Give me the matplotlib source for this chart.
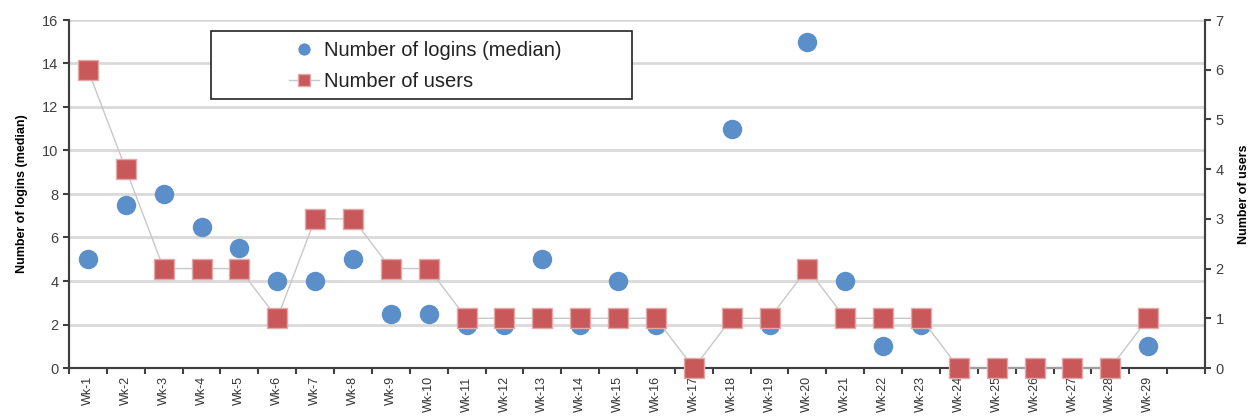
import matplotlib
matplotlib.use("Agg")
import matplotlib.pyplot as plt
from matplotlib.patches import Rectangle
import numpy as np

weeks = ["Wk-%d" % i for i in range(1, 30)]
logins = [5, 7.5, 8, 6.5, 5.5, 4, 4, 5, 2.5, 2.5, 2, 2, 5, 2, 4, 2, 0, 11, 2, 15,
          4, 1, 2, 0, 0, 0, 0, 0, 1]
users = [6, 4, 2, 2, 2, 1, 3, 3, 2, 2, 1, 1, 1, 1, 1, 1, 0, 1, 1, 2,
         1, 1, 1, 0, 0, 0, 0, 0, 1]

plt.rcParams['font.family'] = ['Liberation Sans', 'DejaVu Sans']

W, H = 1250, 419
fig = plt.figure(figsize=(12.5, 4.19), dpi=100)
ax = fig.add_axes([69 / W, 1 - 368 / H, (1205 - 69) / W, (368 - 20) / H])
ax2 = ax.twinx()

x = np.arange(len(weeks))
blue = '#5B8FCA'
red = '#C9585A'

h1, = ax.plot(x, logins, 'o', color=blue, markersize=14, markeredgewidth=0,
              label='Number of logins (median)', zorder=3)
h2, = ax2.plot(x, users, '-s', color='#C8C8C8', lw=1, markerfacecolor=red,
               markeredgecolor='#E2A9A9', markeredgewidth=1, markersize=14,
               label='Number of users', zorder=3, clip_on=False)

ax.set_xlim(-0.5, len(weeks) + 0.5)
ax.set_ylim(0, 16)
ax.set_yticks(range(0, 17, 2))
ax2.set_ylim(0, 7)
ax2.set_yticks(range(0, 8))

ax.yaxis.grid(True, color='#D9D9D9', lw=2)
ax.set_axisbelow(True)

ax.set_xticks(x)
ax.set_xticklabels(weeks, rotation=90, fontsize=9, color='#333333')
ax.set_xticks(np.arange(-0.5, len(weeks) + 1, 1), minor=True)
ax.tick_params(axis='x', which='major', length=0, pad=6)
ax.tick_params(axis='x', which='minor', length=4, width=1.5, color='#404040')
ax.tick_params(axis='y', labelsize=10.5, colors='#404040', length=4, width=1.5)
ax2.tick_params(axis='y', labelsize=10.5, colors='#404040', length=4, width=1.5)

for a in (ax, ax2):
    a.spines['top'].set_visible(False)
    for s in ['left', 'right', 'bottom']:
        a.spines[s].set_color('#404040')
        a.spines[s].set_linewidth(1.5)

ax.set_ylabel('Number of logins (median)', fontsize=9, fontweight='bold', labelpad=10)
ax2.set_ylabel('Number of users', fontsize=9, fontweight='bold', labelpad=10)

# legend box drawn like the Excel one: wide frame, entries centred inside
fig.patches.append(Rectangle((211 / W, 1 - 99 / H), (632 - 211) / W, (99 - 31) / H,
                             transform=fig.transFigure, fill=True, facecolor='white',
                             edgecolor='#222222', lw=1.2, zorder=5))
leg = fig.legend([h1, h2], ['Number of logins (median)', 'Number of users'],
                 loc='center', bbox_to_anchor=(425 / W, 1 - 66 / H),
                 fontsize=14.5, frameon=False, markerscale=0.63,
                 handlelength=1.5, handletextpad=0.25, borderpad=0,
                 labelspacing=0.6)
leg.set_zorder(6)
for t in leg.get_texts():
    t.set_color('#222222')

fig.savefig('out.png', dpi=100)
